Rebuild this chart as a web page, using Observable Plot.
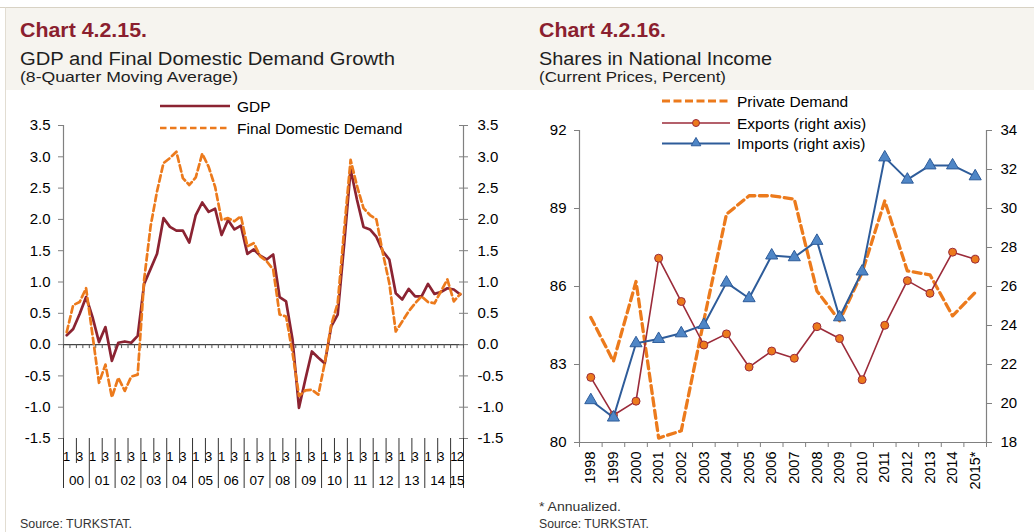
<!DOCTYPE html>
<html><head><meta charset="utf-8">
<script src="https://cdn.jsdelivr.net/npm/d3@7"></script>
<script src="https://cdn.jsdelivr.net/npm/@observablehq/plot@0.6"></script>
<style>
body{margin:0;background:#fff;}
#page{position:relative;width:1034px;height:532px;overflow:hidden;font-family:"Liberation Sans",Arial,sans-serif;}
.abs{position:absolute;}
</style></head><body><div id="page">
<svg id="bg" class="abs" style="left:0;top:0" width="1034" height="532"></svg>
<div id="left" class="abs" style="left:0;top:90px"></div>
<div id="right" class="abs" style="left:520px;top:90px"></div>
</div>
<script>
// ---------- Chart 4.2.15 data (quarterly, 2000Q1 .. 2015Q2) ----------
const firstYear = 2000;
const gdp = [0.15,0.25,0.49,0.76,0.44,0.04,0.28,-0.26,0.03,0.05,0.03,0.14,
  0.97,1.21,1.45,2.02,1.88,1.82,1.82,1.63,2.07,2.27,2.12,2.17,
  1.75,1.99,1.84,1.90,1.45,1.52,1.42,1.36,1.44,0.76,0.69,0.08,
  -1.01,-0.55,-0.11,-0.21,-0.30,0.29,0.48,1.60,2.80,2.31,1.88,1.84,
  1.72,1.49,1.36,0.82,0.72,0.89,0.77,0.77,0.97,0.81,0.84,0.90,
  0.88,0.80];
const fdd = [0.20,0.63,0.68,0.90,0.15,-0.61,-0.32,-0.84,-0.53,-0.74,-0.51,-0.48,
  1.04,1.89,2.45,2.90,2.98,3.08,2.66,2.55,2.67,3.05,2.84,2.52,
  1.99,2.02,1.97,2.05,1.57,1.62,1.41,1.33,1.20,0.48,0.45,-0.13,
  -0.82,-0.73,-0.72,-0.80,-0.29,0.32,0.66,1.83,2.95,2.53,2.18,2.07,
  2.00,1.46,0.98,0.21,0.37,0.53,0.66,0.77,0.68,0.66,0.85,1.04,
  0.69,0.81];
const leftYTicks = [-1.5,-1.0,-0.5,0.0,0.5,1.0,1.5,2.0,2.5,3.0,3.5];

// ---------- Chart 4.2.16 data (annual) ----------
const years = [1998,1999,2000,2001,2002,2003,2004,2005,2006,2007,2008,2009,2010,2011,2012,2013,2014,2015];
const yearLabels = ["1998","1999","2000","2001","2002","2003","2004","2005","2006","2007","2008","2009","2010","2011","2012","2013","2014","2015*"];
const privateDemand = [84.81,83.12,86.19,80.17,80.45,84.7,88.78,89.49,89.49,89.36,85.83,84.68,86.54,89.29,86.60,86.45,84.87,85.77];
const exportsShare = [21.34,19.40,20.12,27.45,25.23,23.00,23.57,21.87,22.69,22.32,23.94,23.33,21.22,24.01,26.30,25.65,27.76,27.40];
const importsShare = [20.17,19.28,23.09,23.31,23.60,24.03,26.20,25.40,27.59,27.50,28.34,24.42,26.77,32.62,31.48,32.21,32.21,31.65];
const leftTicksR = [80,83,86,89,92];
const rightTicksR = [18,20,22,24,26,28,30,32,34];

// colours
const cGDP = "#8B2332", cOrange = "#EC7A1C", cExp = "#9B2B3A", cImp = "#2E5C9A", cImpFill = "#4F86C6";
const axisGrey = "#808080";
const fontFam = '"Liberation Sans", Arial, sans-serif';
const fmt1 = d => d.toFixed(1);

// ---------- background / titles / legends ----------
const bg = d3.select("#bg");
bg.append("rect").attr("x",5).attr("y",8).attr("width",1029).attr("height",82).attr("fill","#f6f4ef");
bg.append("line").attr("x1",0).attr("x2",1034).attr("y1",7.5).attr("y2",7.5).attr("stroke","#d8d2c4");
bg.append("line").attr("x1",5.5).attr("x2",5.5).attr("y1",7.5).attr("y2",532).attr("stroke","#e2ddd2");
function txt(s, x, y, size, opts={}) {
  const t = bg.append("text").attr("x",x).attr("y",y).attr("font-size",size)
    .attr("font-family", opts.family || fontFam).attr("fill", opts.fill || "#1e1e1e").text(s);
  if (opts.bold) t.attr("font-weight","bold");
  if (opts.len) t.attr("textLength",opts.len).attr("lengthAdjust","spacingAndGlyphs");
  return t;
}
txt("Chart 4.2.15.", 20, 37, 21, {bold:true, fill:"#8B1F2F", len:127});
txt("GDP and Final Domestic Demand Growth", 20, 65, 18, {len:375});
txt("(8-Quarter Moving Average)", 20, 82, 14.5, {len:218});
txt("Chart 4.2.16.", 539, 37, 21, {bold:true, fill:"#8B1F2F", len:127});
txt("Shares in National Income", 539, 65, 18, {len:233});
txt("(Current Prices, Percent)", 539, 82, 14.5, {len:187});
txt("Source: TURKSTAT.", 20, 527.5, 12.5, {len:112, fill:"#333"});
txt("* Annualized.", 539, 511, 12.5, {len:82, fill:"#333"});
txt("Source: TURKSTAT.", 539, 527.5, 12.5, {len:110, fill:"#333"});

// left legend
bg.append("line").attr("x1",160).attr("x2",230).attr("y1",106).attr("y2",106).attr("stroke",cGDP).attr("stroke-width",2.7);
txt("GDP", 237, 111.5, 15.5, {fill:"#000"});
bg.append("line").attr("x1",160).attr("x2",230).attr("y1",128).attr("y2",128).attr("stroke",cOrange).attr("stroke-width",2.7).attr("stroke-dasharray","6.5,3.5");
txt("Final Domestic Demand", 237, 133.5, 15.5, {fill:"#000"});
// right legend
bg.append("line").attr("x1",662).attr("x2",730).attr("y1",101).attr("y2",101).attr("stroke",cOrange).attr("stroke-width",3).attr("stroke-dasharray","8,3.5");
txt("Private Demand", 737, 107, 15.5, {fill:"#000"});
bg.append("line").attr("x1",662).attr("x2",730).attr("y1",123).attr("y2",123).attr("stroke",cExp).attr("stroke-width",1.6);
bg.append("circle").attr("cx",696).attr("cy",123).attr("r",3.5).attr("fill",cOrange).attr("stroke",cExp);
txt("Exports (right axis)", 737, 128.5, 15.5, {fill:"#000"});
bg.append("line").attr("x1",662).attr("x2",730).attr("y1",143.5).attr("y2",143.5).attr("stroke",cImp).attr("stroke-width",2);
bg.append("path").attr("d", d3.symbol(d3.symbolTriangle, 40)()).attr("transform","translate(696,143)").attr("fill",cImpFill).attr("stroke",cImp);
txt("Imports (right axis)", 737, 149, 15.5, {fill:"#000"});

// ---------- Chart 4.2.15 (Plot) ----------
const qData = gdp.map((g,i) => ({t: firstYear + i/4 + 0.125, gdp: g, fdd: fdd[i]}));
const nQ = gdp.length;
const xEnd = firstYear + nQ/4;
const quarterBounds = d3.range(nQ + 1).map(k => firstYear + k/4);
const yearBounds = d3.range(firstYear, Math.ceil(xEnd)).concat([xEnd]);
const halfBounds = d3.range(firstYear, Math.floor(xEnd)).map(y => y + 0.5);
const qLabelMap = new Map();
d3.range(firstYear, Math.floor(xEnd)).forEach(y => { qLabelMap.set(y + 0.125, "1"); qLabelMap.set(y + 0.625, "3"); });
qLabelMap.set(Math.floor(xEnd) + 0.125, "1"); qLabelMap.set(Math.floor(xEnd) + 0.375, "2");
const yLabelMap = new Map();
d3.range(firstYear, Math.ceil(xEnd)).forEach(y => yLabelMap.set((y + Math.min(y+1, xEnd))/2, String(y % 100).padStart(2, "0")));

const leftPlot = Plot.plot({
  width: 512, height: 442,
  marginLeft: 63, marginRight: 49, marginTop: 35, marginBottom: 94,
  x: {domain: [firstYear, xEnd], label: null},
  y: {domain: [-1.5, 3.5], label: null},
  style: {background: "transparent", fontFamily: fontFam, fontSize: "15px", color: "#000", overflow: "visible"},
  marks: [
    Plot.ruleX([firstYear], {stroke: axisGrey, strokeWidth: 1.2}),
    Plot.ruleX([xEnd], {stroke: axisGrey, strokeWidth: 1.2}),
    Plot.ruleY([0], {stroke: "#444", strokeWidth: 1.2}),
    Plot.ruleX(quarterBounds, {x: d => d, y1: 0, y2: 0, insetBottom: -4, stroke: "#555"}),
    Plot.axisY({anchor: "left", ticks: leftYTicks, tickFormat: fmt1, tickSize: 5, tickPadding: 8, stroke: axisGrey, fill: "#000", fontSize: 15, label: null}),
    Plot.axisY({anchor: "right", ticks: leftYTicks, tickFormat: fmt1, tickSize: 4, tickPadding: 10, stroke: axisGrey, fill: "#000", fontSize: 15, label: null}),
    Plot.ruleY(leftYTicks, {y: d => d, x1: xEnd, x2: xEnd, insetLeft: -4, stroke: axisGrey}),
    Plot.axisX({anchor: "bottom", ticks: yearBounds, tickSize: 50, tickFormat: () => "", stroke: "#333", label: null}),
    Plot.axisX({anchor: "bottom", ticks: halfBounds, tickSize: 25, tickFormat: () => "", stroke: "#333", label: null}),
    Plot.axisX({anchor: "bottom", ticks: [...qLabelMap.keys()], tickSize: 0, tickPadding: 13, tickFormat: t => qLabelMap.get(t), fontSize: 13, fill: "#000", label: null}),
    Plot.axisX({anchor: "bottom", ticks: [...yLabelMap.keys()], tickSize: 0, tickPadding: 37, tickFormat: t => yLabelMap.get(t), fontSize: 13.5, fill: "#000", label: null}),
    Plot.line(qData, {x: "t", y: "gdp", stroke: cGDP, strokeWidth: 2.7}),
    Plot.line(qData, {x: "t", y: "fdd", stroke: cOrange, strokeWidth: 2.7, strokeDasharray: "6.5,3.5"})
  ]
});
document.getElementById("left").appendChild(leftPlot);

// ---------- Chart 4.2.16 (Plot) ----------
const lMin = 80, lMax = 92, rMin = 18, rMax = 34;
const toLeft = v => lMin + (v - rMin) * (lMax - lMin) / (rMax - rMin);
const toRight = v => rMin + (v - lMin) * (rMax - rMin) / (lMax - lMin);
const rData = years.map((y,i) => ({year: y, pd: privateDemand[i], ex: toLeft(exportsShare[i]), im: toLeft(importsShare[i])}));
const labelOf = new Map(years.map((y,i) => [y, yearLabels[i]]));
const yBounds = d3.range(years.length + 1).map(k => years[0] - 0.5 + k);

const rightPlot = Plot.plot({
  width: 514, height: 442,
  marginLeft: 59, marginRight: 48, marginTop: 40, marginBottom: 90,
  x: {domain: [years[0] - 0.5, years[years.length-1] + 0.5], label: null},
  y: {domain: [lMin, lMax], label: null},
  style: {background: "transparent", fontFamily: fontFam, fontSize: "15px", color: "#000", overflow: "visible"},
  marks: [
    Plot.ruleX([years[0] - 0.5], {stroke: axisGrey, strokeWidth: 1.2}),
    Plot.ruleX([years[years.length-1] + 0.5], {stroke: axisGrey, strokeWidth: 1.2}),
    Plot.ruleY([lMin], {stroke: axisGrey, strokeWidth: 1.2}),
    Plot.axisY({anchor: "left", ticks: leftTicksR, tickSize: 5, tickPadding: 8, stroke: axisGrey, fill: "#000", fontSize: 15, label: null}),
    Plot.axisY({anchor: "right", ticks: rightTicksR.map(toLeft), tickFormat: d => String(Math.round(toRight(d))), tickSize: 5, tickPadding: 9, stroke: axisGrey, fill: "#000", fontSize: 15, label: null}),
    Plot.axisX({anchor: "bottom", ticks: yBounds, tickSize: 5, tickFormat: () => "", stroke: axisGrey, label: null}),
    Plot.axisX({anchor: "bottom", ticks: years, tickSize: 0, tickPadding: 9, tickRotate: -90, tickFormat: y => labelOf.get(y), fontSize: 14.5, fill: "#000", label: null}),
    Plot.line(rData, {x: "year", y: "pd", stroke: cOrange, strokeWidth: 3.3, strokeDasharray: "8,4.5"}),
    Plot.line(rData, {x: "year", y: "ex", stroke: cExp, strokeWidth: 1.6}),
    Plot.dot(rData, {x: "year", y: "ex", r: 4, fill: cOrange, stroke: cExp, strokeWidth: 1}),
    Plot.line(rData, {x: "year", y: "im", stroke: cImp, strokeWidth: 2}),
    Plot.dot(rData, {x: "year", y: "im", symbol: "triangle", r: 4.5, fill: cImpFill, stroke: cImp, strokeWidth: 1})
  ]
});
document.getElementById("right").appendChild(rightPlot);
</script>
</body></html>
